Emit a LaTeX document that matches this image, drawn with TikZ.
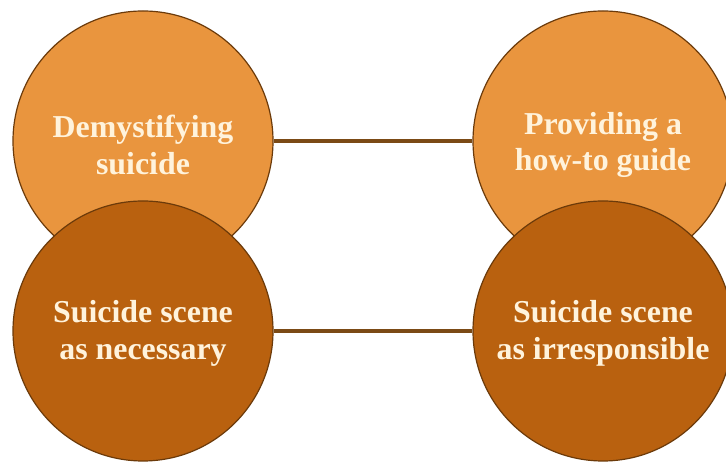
\documentclass[tikz,border=0pt]{standalone}
\usepackage{fontspec}
\setmainfont{Liberation Serif}
\usepackage{tikz}

\definecolor{lightorange}{HTML}{E9953E}
\definecolor{darkorange}{HTML}{B9610F}
\definecolor{rimbrown}{HTML}{6B3A0A}
\definecolor{linkbrown}{HTML}{7B4A15}
\definecolor{cream}{HTML}{FFF3DC}

\begin{document}
\begin{tikzpicture}
			[x=1bp, y=1bp, align=center,
			disc/.style ={circle, draw=rimbrown, line width=1.2pt, minimum size=260bp, inner sep=0pt},
			upper/.style ={disc, fill=lightorange},
			lower/.style ={disc, fill=darkorange},
			caption/.style ={text=cream, font=\bfseries\fontsize{32}{37}\selectfont},
			link/.style ={draw=linkbrown, line width=3.5pt}];
			\useasboundingbox (0,0) rectangle (726,462);
			% top pair
			\node [upper] (demystifying) at (143,321) {};
			\node [upper] (howto) at (603,321) {};
			% bottom pair, drawn over the top pair
			\node [lower] (necessary) at (143,131) {};
			\node [lower] (irresponsible) at (603,131) {};
			\node [caption] (demystifyingtext) at ([yshift=-4]demystifying) {Demystifying\\suicide};
			\node [caption] (howtotext) at ([yshift=-4]howto) {Providing a\\how-to guide};
			\node [caption] (necessarytext) at ([yshift=-2]necessary) {Suicide scene\\as necessary};
			\node [caption] (irresponsibletext) at ([yshift=-2]irresponsible) {Suicide scene\\as irresponsible};
			\draw [link] (demystifying.east) -- (howto.west);
			\draw [link] (necessary.east) -- (irresponsible.west);
		\end{tikzpicture}
\end{document}
